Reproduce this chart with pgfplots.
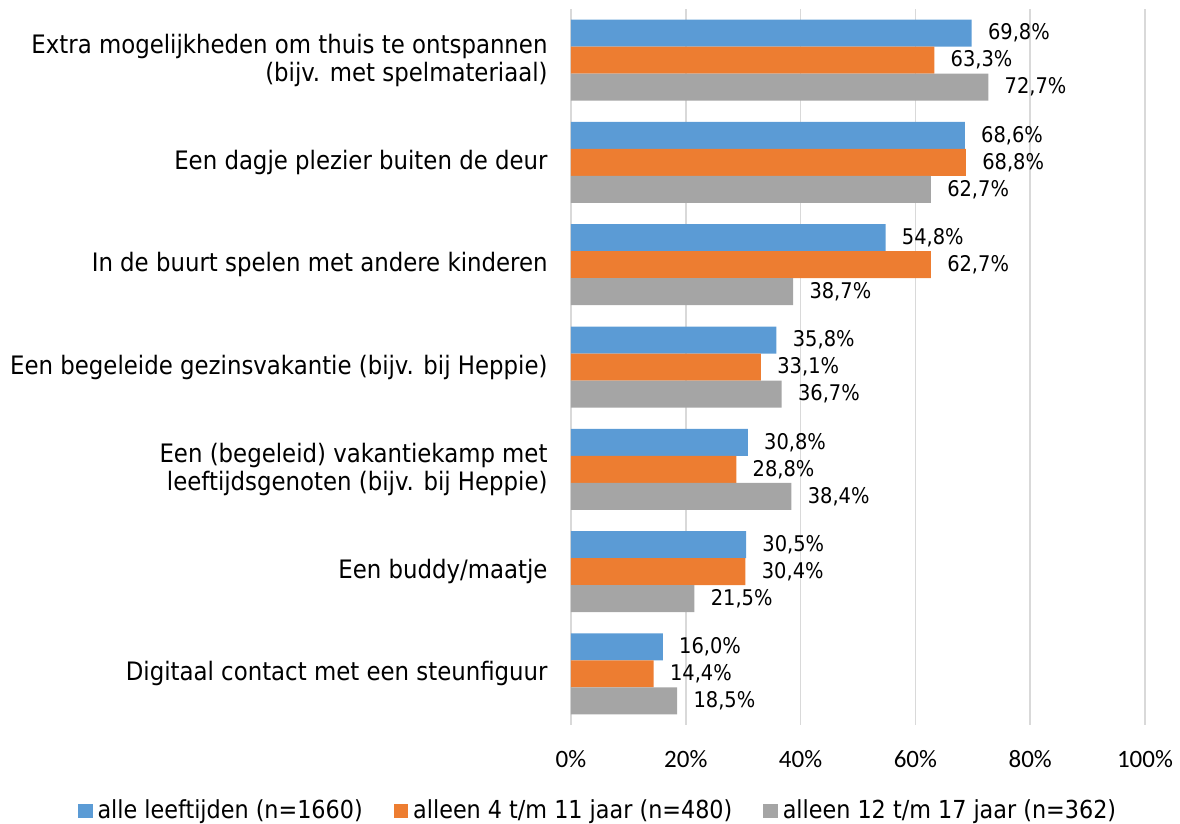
\documentclass[border=0pt]{standalone}
\usepackage{pgfplots}
\pgfplotsset{compat=1.18}
\usepackage{fontspec}
\setmainfont{DejaVu Sans Condensed}
\newfontfamily\calib{Carlito}
\definecolor{cblue}{HTML}{5B9BD5}
\definecolor{corange}{HTML}{ED7D31}
\definecolor{cgray}{HTML}{A5A5A5}
\definecolor{cgrid}{HTML}{D9D9D9}
\begin{document}
\fontsize{12.7}{14}\selectfont
\begin{tikzpicture}
\begin{axis}[
  scale only axis,
  width=287pt, height=358pt,
  xbar, bar width=13.5pt,
  xmin=0, xmax=100,
  ymin=-0.5, ymax=6.5,
  y dir=reverse,
  axis line style={draw=none},
  xmajorgrids, grid style={cgrid, line width=0.8pt},
  xtick={0,20,40,60,80,100},
  xticklabels={0\%,20\%,40\%,60\%,80\%,100\%},
  ytick={0,...,6},
  yticklabels={{Extra mogelijkheden om thuis te ontspannen\\(bijv. met spelmateriaal)},
    {Een dagje plezier buiten de deur},
    {In de buurt spelen met andere kinderen},
    {Een begeleide gezinsvakantie (bijv. bij Heppie)},
    {Een (begeleid) vakantiekamp met\\leeftijdsgenoten (bijv. bij Heppie)},
    {Een buddy/maatje},
    {Digitaal contact met een steunfiguur}},
  major tick length=0pt,
  yticklabel style={align=right, inner xsep=0pt, xshift=-11.5pt, font=\fontsize{12.7}{14}\selectfont},
  xticklabel style={anchor=center, yshift=-17pt, font=\calib\fontsize{12.5}{15}\selectfont},
  nodes near coords={\pgfmathprintnumber[fixed,fixed zerofill,precision=1,use comma,assume math mode=true]{\pgfplotspointmeta}\%},
  nodes near coords style={anchor=west, inner xsep=0pt, xshift=8pt, font=\fontsize{10.8}{13}\selectfont, text=black},
  legend columns=3,
  legend style={draw=none, at={(0.05,0)}, anchor=center, yshift=-43pt,
    font=\fontsize{12.4}{14}\selectfont,
    /tikz/every even column/.append style={column sep=13pt},
    nodes={inner xsep=2.5pt}},
  legend image code/.code={\fill[#1] (0pt,-3.6pt) rectangle (7.2pt,3.6pt);},
  clip=false,
]
\addplot[fill=cblue, draw=none, bar shift=13.5pt] coordinates {(69.8,0) (68.6,1) (54.8,2) (35.8,3) (30.8,4) (30.5,5) (16.0,6)};
\addplot[fill=corange, draw=none, bar shift=0pt] coordinates {(63.3,0) (68.8,1) (62.7,2) (33.1,3) (28.8,4) (30.4,5) (14.4,6)};
\addplot[fill=cgray, draw=none, bar shift=-13.5pt] coordinates {(72.7,0) (62.7,1) (38.7,2) (36.7,3) (38.4,4) (21.5,5) (18.5,6)};
\legend{alle leeftijden (n=1660), alleen 4 t/m 11 jaar (n=480), alleen 12 t/m 17 jaar (n=362)}
\end{axis}
\pgfresetboundingbox
\path (-285.5pt,-49.5pt) rectangle (304.5pt,362.5pt);
\end{tikzpicture}
\end{document}
